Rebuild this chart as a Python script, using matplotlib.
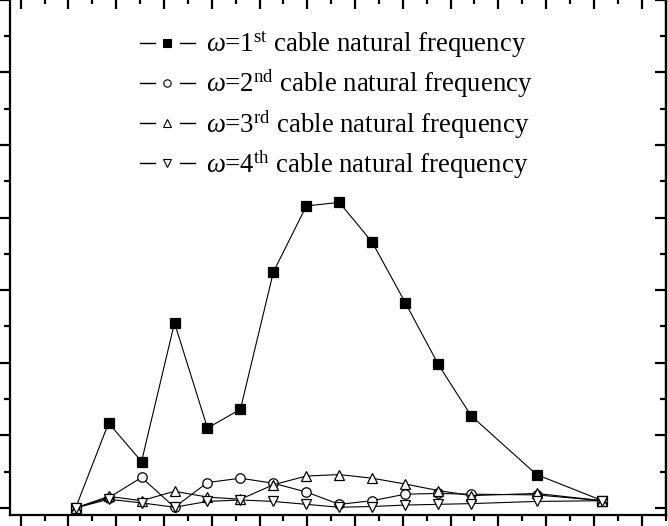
"""
Cable response vs. position for the first four cable natural frequencies.
Origin-style frame: outward ticks left/bottom, inward ticks top/right, no tick labels
(the source figure is cropped to the plot area).
"""
import matplotlib
matplotlib.use("Agg")
import matplotlib.pyplot as plt
from matplotlib.legend_handler import HandlerLine2D
from matplotlib.lines import Line2D
from matplotlib.ticker import MultipleLocator, NullFormatter

plt.rcParams["font.family"] = ["Liberation Serif", "DejaVu Serif"]
plt.rcParams["mathtext.fontset"] = "custom"
plt.rcParams["mathtext.rm"] = "Liberation Serif"
plt.rcParams["mathtext.it"] = "Liberation Serif:italic"

# x positions (in major-tick units) of the measured points
x_pos = [1.15, 1.84, 2.53, 3.22, 3.91, 4.60, 5.29, 5.98, 6.67, 7.36, 8.05, 8.74, 9.43, 10.80, 12.18]

resp_1st = [0.00, 1.17, 0.64, 2.55, 1.10, 1.36, 3.25, 4.16, 4.21, 3.66, 2.83, 1.98, 1.27, 0.46, 0.10]
resp_2nd = [0.00, 0.14, 0.42, 0.01, 0.35, 0.41, 0.34, 0.22, 0.05, 0.10, 0.19, 0.20, 0.19, 0.18, 0.10]
resp_3rd = [0.00, 0.16, 0.10, 0.23, 0.15, 0.12, 0.32, 0.44, 0.46, 0.41, 0.33, 0.24, 0.17, 0.20, 0.10]
resp_4th = [0.00, 0.12, 0.07, 0.01, 0.09, 0.11, 0.09, 0.05, 0.01, 0.02, 0.04, 0.05, 0.06, 0.09, 0.10]

labels = [
    r"$\omega$=1$^{\mathrm{st}}$ cable natural frequency",
    r"$\omega$=2$^{\mathrm{nd}}$ cable natural frequency",
    r"$\omega$=3$^{\mathrm{rd}}$ cable natural frequency",
    r"$\omega$=4$^{\mathrm{th}}$ cable natural frequency",
]

BLACK = "#000000"


class GapLineHandler(HandlerLine2D):
    """Origin-like legend key: short line, gap, marker, gap, short line."""

    def create_artists(self, legend, orig_handle, xdescent, ydescent,
                       width, height, fontsize, trans):
        y = height / 2.0 - ydescent
        x0 = -xdescent
        x1 = x0 + width
        seg = 0.28 * width
        left = Line2D([x0, x0 + seg], [y, y], color=BLACK, lw=1.0)
        right = Line2D([x1 - seg, x1], [y, y], color=BLACK, lw=1.0)
        mark = Line2D([(x0 + x1) / 2.0], [y], linestyle="none",
                      marker=orig_handle.get_marker(), markersize=5.3,
                      markerfacecolor=orig_handle.get_markerfacecolor(),
                      markeredgecolor=BLACK, markeredgewidth=0.8)
        for a in (left, right, mark):
            a.set_transform(trans)
        return [left, right, mark]


fig = plt.figure(figsize=(6.68, 5.26), dpi=100)
W, H = 668.0, 526.0
# axes spans px x 10..666, y -2..514.5 (top spine just outside the picture)
ax = fig.add_axes([10 / W, (H - 514.5) / H, 656 / W, 516.5 / H])
ax.set_xlim(-0.224, 13.51)
ax.set_ylim(-0.09, 7.025)

styles = [
    (resp_1st, "s", BLACK, 7.2),
    (resp_2nd, "o", "white", 6.8),
    (resp_3rd, "^", "white", 7.4),
    (resp_4th, "v", "white", 7.4),
]
handles = []
for (vals, mk, face, ms), lab in zip(styles, labels):
    h, = ax.plot(x_pos, vals, color=BLACK, lw=0.8, marker=mk, markersize=ms,
                 markerfacecolor=face, markeredgecolor=BLACK, markeredgewidth=0.9,
                 label=lab, clip_on=False)
    handles.append(h)

for side in ("left", "bottom", "top", "right"):
    ax.spines[side].set_linewidth(1.6)

ax.xaxis.set_major_locator(MultipleLocator(1.0))
ax.xaxis.set_minor_locator(MultipleLocator(0.5))
ax.yaxis.set_major_locator(MultipleLocator(1.0))
ax.yaxis.set_minor_locator(MultipleLocator(0.5))
ax.xaxis.set_major_formatter(NullFormatter())
ax.yaxis.set_major_formatter(NullFormatter())
ax.tick_params(which="both", direction="out", width=1.6, top=False, right=False)
ax.tick_params(which="major", length=9)
ax.tick_params(which="minor", length=4.5)

# inward ticks on top and right
top = ax.secondary_xaxis("top")
right = ax.secondary_yaxis("right")
for sec, axis in ((top, top.xaxis), (right, right.yaxis)):
    axis.set_major_locator(MultipleLocator(1.0))
    axis.set_minor_locator(MultipleLocator(0.5))
    axis.set_major_formatter(NullFormatter())
    sec.tick_params(which="both", direction="in", width=1.6)
    sec.tick_params(which="major", length=8)
    sec.tick_params(which="minor", length=4)
    for sp in sec.spines.values():
        sp.set_linewidth(1.6)

ax.legend(handles=handles, labels=labels, loc="upper left",
          bbox_to_anchor=(140 / W, 1 - 30 / H), bbox_transform=fig.transFigure,
          frameon=False, fontsize=19.3, borderpad=0, borderaxespad=0,
          handlelength=2.05, handletextpad=0.40, labelspacing=0.29,
          handler_map={Line2D: GapLineHandler()})

fig.savefig("out.png", dpi=100)
